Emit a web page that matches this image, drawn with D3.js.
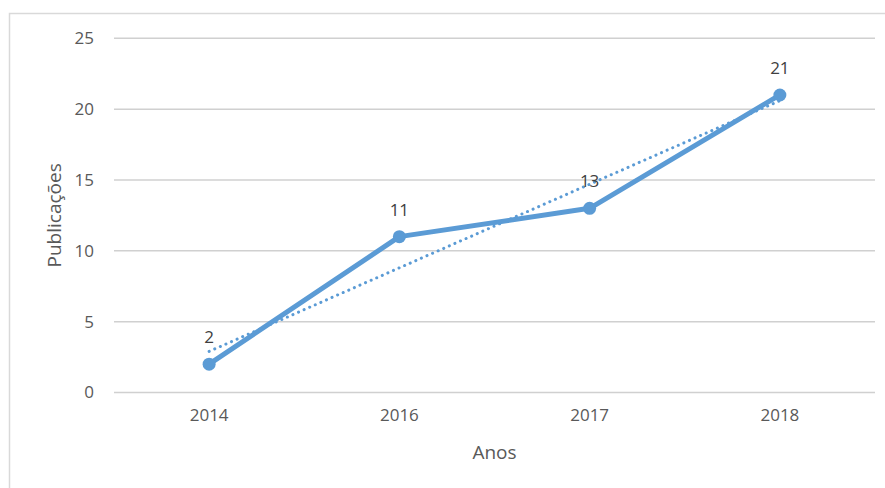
<!DOCTYPE html>
<html>
<head>
<meta charset="utf-8">
<script src="https://cdn.jsdelivr.net/npm/d3@7"></script>
<style>
    body { margin: 0; background: #fff; }
    svg text { font-family: "Open Sans", sans-serif; fill: #595959; }
</style>
</head>
<body>
<svg width="885" height="488"></svg>
<script>
var anos = ["2014", "2016", "2017", "2018"];
var publicacoes = [2, 11, 13, 21];
// linha de tendência linear
var tendencia = [2.9, 20.6];
var yTicks = [0, 5, 10, 15, 20, 25];

var svg = d3.select("svg");
var cor = "#5b9bd5";

// moldura do gráfico
svg.append("rect")
    .attr("x", 9.5).attr("y", 13.5)
    .attr("width", 900).attr("height", 500)
    .attr("fill", "none")
    .attr("stroke", "#d9d9d9")
    .attr("stroke-width", 1.5);

var x = d3.scaleBand().domain(anos).range([114, 875]);
var y = d3.scaleLinear().domain([0, 25]).range([392.5, 38.3]);

// grade
svg.append("g")
    .selectAll("line")
    .data(yTicks)
    .enter()
    .append("line")
    .attr("x1", 114).attr("x2", 875)
    .attr("y1", d => y(d)).attr("y2", d => y(d))
    .attr("stroke", "#d0d0d0")
    .attr("stroke-width", 1.5);

// eixo y
var yAxis = svg.append("g")
    .attr("transform", "translate(114,0)")
    .call(d3.axisLeft(y).tickValues(yTicks).tickSize(0).tickPadding(20));
yAxis.select(".domain").remove();
yAxis.selectAll("text").style("font-size", "17px").attr("fill", "#595959");

// eixo x
var xAxis = svg.append("g")
    .attr("transform", "translate(0," + y(0) + ")")
    .call(d3.axisBottom(x).tickSize(0).tickPadding(16));
xAxis.select(".domain").remove();
xAxis.selectAll("text").style("font-size", "17px").attr("fill", "#595959");

// títulos dos eixos
svg.append("text")
    .attr("x", x.range()[0] + (x.range()[1] - x.range()[0]) / 2)
    .attr("y", 459)
    .attr("text-anchor", "middle")
    .style("font-size", "19px")
    .text("Anos");

svg.append("text")
    .attr("transform", "translate(61," + y(12.5) + ") rotate(-90)")
    .attr("text-anchor", "middle")
    .style("font-size", "19px")
    .text("Publicações");

var cx = d => x(d) + x.bandwidth() / 2;

// tendência
svg.append("line")
    .attr("x1", cx(anos[0])).attr("y1", y(tendencia[0]))
    .attr("x2", cx(anos[anos.length - 1])).attr("y2", y(tendencia[1]))
    .attr("stroke", cor)
    .attr("stroke-width", 3)
    .attr("stroke-linecap", "round")
    .attr("stroke-dasharray", "0.1 6");

// série
var line = d3.line()
    .x((d, i) => cx(anos[i]))
    .y(d => y(d));

svg.append("path")
    .datum(publicacoes)
    .attr("d", line)
    .attr("fill", "none")
    .attr("stroke", cor)
    .attr("stroke-width", 5)
    .attr("stroke-linejoin", "round");

svg.selectAll("circle.pt")
    .data(publicacoes)
    .enter()
    .append("circle")
    .attr("class", "pt")
    .attr("cx", (d, i) => cx(anos[i]))
    .attr("cy", d => y(d))
    .attr("r", 6.5)
    .attr("fill", cor);

// rótulos
svg.selectAll("text.rot")
    .data(publicacoes)
    .enter()
    .append("text")
    .attr("class", "rot")
    .attr("x", (d, i) => cx(anos[i]))
    .attr("y", d => y(d) - 21)
    .attr("text-anchor", "middle")
    .style("font-size", "17px")
    .style("fill", "#404040")
    .text(d => d);
</script>
</body>
</html>
